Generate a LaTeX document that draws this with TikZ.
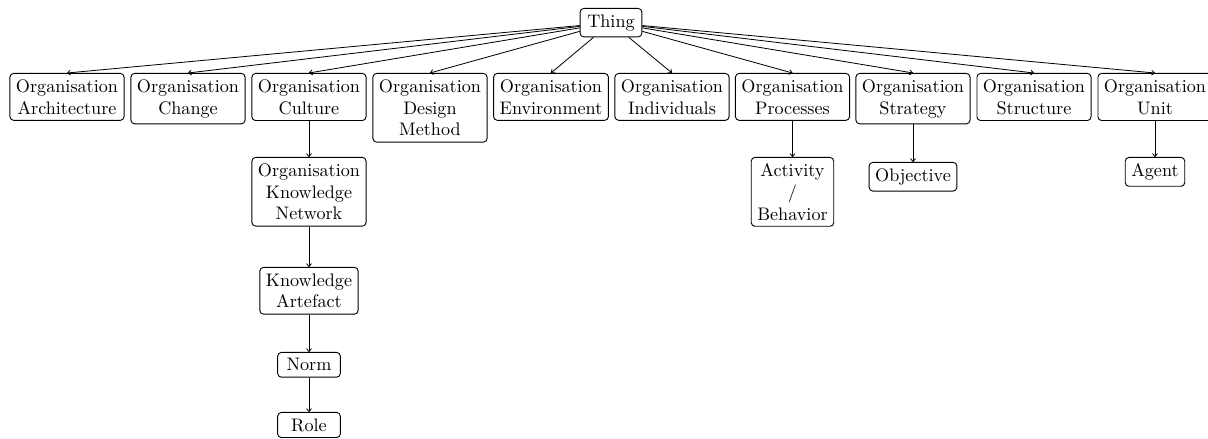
\documentclass[tikz,border=0pt]{standalone}
\usetikzlibrary{arrows.meta}
\begin{document}
\begin{tikzpicture}[x=0.551pt,y=-0.551pt,
  box/.style={draw,rounded corners=2pt,align=center,anchor=north,inner sep=3.33pt,line width=0.5pt},
  edge/.style={-{To[length=2pt,width=3pt]},line width=0.45pt}]
\useasboundingbox (0,0) rectangle (1208,439);
\node[box,minimum width=34pt] (thing) at (611,8) {Thing};
\node[box] (arch) at (67,73) {Organisation\\Architecture};
\node[box] (change) at (188,73) {Organisation\\Change};
\node[box] (culture) at (309,73) {Organisation\\Culture};
\node[box] (design) at (430,73) {Organisation\\Design\\Method};
\node[box] (env) at (551,73) {Organisation\\Environment};
\node[box] (indiv) at (672,73) {Organisation\\Individuals};
\node[box] (proc) at (792.5,73) {Organisation\\Processes};
\node[box] (strat) at (913,73) {Organisation\\Strategy};
\node[box] (struct) at (1034,73) {Organisation\\Structure};
\node[box] (unit) at (1155,73) {Organisation\\Unit};
\node[box] (network) at (309,157) {Organisation\\Knowledge\\Network};
\node[box] (artefact) at (309,267) {Knowledge\\Artefact};
\node[box,minimum width=34.5pt] (norm) at (309,352) {Norm};
\node[box,minimum width=34.5pt] (role) at (309,412) {Role};
\node[box] (activity) at (792.5,157) {Activity\\/\\Behavior};
\node[box] (objective) at (913,162) {Objective};
\node[box] (agent) at (1155,157) {Agent};
\foreach \c in {arch,change,culture,design,env,indiv,proc,strat,struct,unit}
  \draw[edge] (thing) -- (\c.north);
\draw[edge] (culture) -- (network.north);
\draw[edge] (network) -- (artefact.north);
\draw[edge] (artefact) -- (norm.north);
\draw[edge] (norm) -- (role.north);
\draw[edge] (proc) -- (activity.north);
\draw[edge] (strat) -- (objective.north);
\draw[edge] (unit) -- (agent.north);
\end{tikzpicture}
\end{document}
